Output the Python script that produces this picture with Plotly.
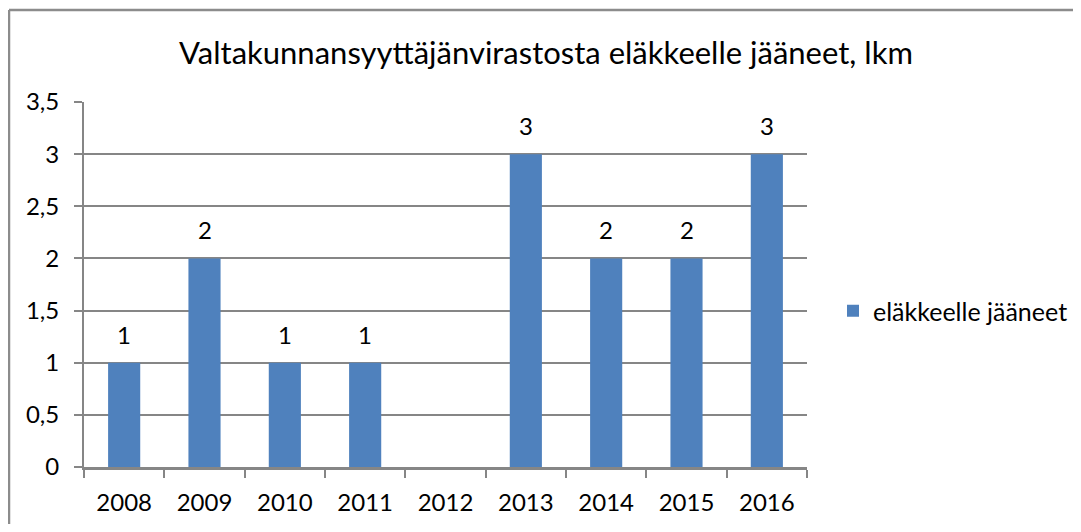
import plotly.graph_objects as go

years = ["2008", "2009", "2010", "2011", "2012", "2013", "2014", "2015", "2016"]
values = [1, 2, 1, 1, 0, 3, 2, 2, 3]
labels = ["1", "2", "1", "1", "", "3", "2", "2", "3"]
y_ticks = [0, 0.5, 1, 1.5, 2, 2.5, 3, 3.5]
y_tick_text = ["0", "0,5", "1", "1,5", "2", "2,5", "3", "3,5"]
series_name = "eläkkeelle jääneet"
title = "Valtakunnansyyttäjänvirastosta eläkkeelle jääneet, lkm"

# page body has an 8px margin; work in figure coordinates
OFF = 8
W, H = 1081 - OFF, 532 - 2 * OFF
L = 84 - OFF
T = 102 - OFF
R = W - (807 - OFF)
B = H - (467 - OFF)
PW, PH = W - L - R, H - T - B

font = "Lato"
fig = go.Figure()
fig.add_trace(go.Bar(
    x=years, y=values, name=series_name,
    marker=dict(color="#4F81BD", line=dict(width=0)),
))

for i, (v, t) in enumerate(zip(values, labels)):
    if t:
        fig.add_annotation(x=i, y=v, xref="x", yref="y", text=t, showarrow=False,
                           yanchor="bottom", yshift=12,
                           font=dict(size=24, family=font, color="#000000"))

fig.update_layout(
    width=W, height=H,
    margin=dict(l=L, r=R, t=T, b=B, autoexpand=False),
    paper_bgcolor="white", plot_bgcolor="white",
    font=dict(family=font, size=24, color="#000000"),
    title=dict(text=title, x=(546 - OFF) / W, xref="container", xanchor="center",
               y=1 - (53 - OFF) / H, yref="container", yanchor="middle",
               font=dict(size=31, family=font, color="#000000")),
    bargap=0.6,
    showlegend=True,
    legend=dict(x=(833 - OFF - L) / PW, xanchor="left",
                y=(H - B - (311 - OFF)) / PH, yanchor="middle",
                font=dict(size=25, family=font), itemwidth=30, bgcolor="rgba(0,0,0,0)"),
    xaxis=dict(type="category", range=[-0.5, len(years) - 0.5],
               showline=True, linecolor="#868686", linewidth=3,
               ticks="outside", tickson="boundaries", ticklen=8, tickcolor="#868686", tickwidth=1.5,
               showgrid=False, tickfont=dict(size=24, family=font), ticklabelstandoff=12),
    yaxis=dict(range=[0, 3.5], tickvals=y_ticks, ticktext=y_tick_text,
               showline=True, linecolor="#868686", linewidth=2,
               ticks="outside", ticklen=8, tickcolor="#868686", tickwidth=1.5,
               showgrid=True, gridcolor="#868686", gridwidth=1.5,
               tickfont=dict(size=24, family=font), zeroline=False, ticklabelstandoff=10),
)

# outer chart frame (top and left edges visible)
ytop = 1 + (T - (10 - OFF)) / PH
xleft = (9 - OFF - L) / PW
fig.add_shape(type="line", xref="paper", yref="paper",
              x0=xleft, x1=(W - L) / PW, y0=ytop, y1=ytop,
              line=dict(color="#8c8c8c", width=2.5))
fig.add_shape(type="line", xref="paper", yref="paper",
              x0=xleft, x1=xleft, y0=ytop, y1=-B / PH,
              line=dict(color="#8c8c8c", width=2.5))

fig.write_html("out.html")
